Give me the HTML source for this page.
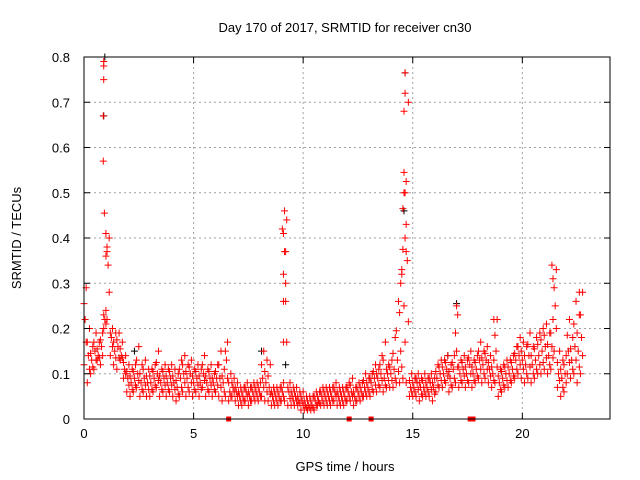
<!DOCTYPE html>
<html><head><meta charset="utf-8"><style>
html,body{margin:0;padding:0;background:#fff}
svg{display:block;font-family:"Liberation Sans",sans-serif}
</style></head><body>
<svg id="chart" width="640" height="480">
<rect width="640" height="480" fill="#fff"/>
<g id="grid"></g>
<g id="marks"></g>
<g id="axes"></g>
<text x="345" y="32" font-size="13" text-anchor="middle" fill="#000">Day 170 of 2017, SRMTID for receiver cn30</text>
<text x="345" y="471" font-size="13" text-anchor="middle" fill="#000">GPS time / hours</text>
<text x="0" y="0" transform="translate(21,238) rotate(-90)" font-size="13" text-anchor="middle" fill="#000">SRMTID / TECUs</text>
</svg>
<script>
const xTicks=[0,5,10,15,20];
const yTicks=[0,0.1,0.2,0.3,0.4,0.5,0.6,0.7,0.8];
const yTickLabels=["0","0.1","0.2","0.3","0.4","0.5","0.6","0.7","0.8"];
const tStep=0.15;
const loVals=[12,8,10,11,13,12,20,22,14,12,11,13,9,6,5,6,7,5,6,5,5,6,7,5,6,5,6,5,4,5,6,5,6,5,6,5,7,5,6,5,6,5,4,5,4,5,4,3,3,4,3,4,4,4,5,4,4,3,3,3,4,4,3,3,3,3,2,2,2,2,2,3,3,3,3,3,4,3,3,3,4,4,3,4,4,5,5,5,6,6,7,6,7,7,7,8,8,9,8,5,5,5,4,5,5,5,4,6,7,7,8,6,7,8,7,8,7,8,7,8,9,8,9,8,7,8,5,6,7,7,8,9,10,9,8,9,8,9,10,10,11,10,11,15,7,5,6,10,9,10,8,10];
const midVals=[22,14,13,15,14,16,22,34,18,15,16,14,11,9,8,9,10,8,9,8,8,9,10,8,9,8,9,8,7,9,10,9,10,8,9,8,10,8,9,8,9,9,8,13,6,7,6,5,5,6,5,6,6,6,9,8,7,5,5,5,6,30,6,5,5,4,4,3,3,3,4,4,5,5,5,5,6,5,5,5,6,6,5,6,6,7,7,8,9,9,10,9,10,10,11,13,15,25,35,7,7,8,7,7,7,8,7,9,10,10,11,9,11,15,10,11,10,12,10,11,13,12,13,11,10,15,8,9,10,10,11,13,14,13,12,14,12,13,14,15,16,14,16,25,10,9,10,15,13,16,15,18];
const hiVals=[29,20,16,19,17,19,24,40,20,19,19,17,14,12,11,12,16,12,13,11,11,12,15,11,12,11,12,11,10,13,14,12,13,11,12,11,14,11,12,10,12,15,11,17,10,9,8,7,7,8,7,8,8,8,15,13,12,7,7,7,8,44,8,7,7,6,6,5,5,5,6,6,7,7,7,7,8,7,7,7,8,9,7,8,8,10,9,10,12,11,14,17,12,13,18,26,32,50,70,10,9,10,9,10,9,10,9,12,13,13,14,12,14,23,13,14,13,15,13,14,17,15,16,14,13,22,11,12,13,13,14,16,18,17,16,19,16,18,19,20,21,19,22,33,15,13,14,22,18,26,23,28];
const peakT=[0.9,0.9,0.9,0.88,0.88,0.93,1.0,1.05,1.0,9.05,9.15,9.1,9.2,9.1,9.1,9.2,9.1,14.65,14.65,14.6,14.6,14.6,14.55,14.7,14.65,14.7,14.5,14.45,17.0,18.7,21.35,21.4,22.6];
const peakV=[0.79,0.78,0.75,0.67,0.57,0.455,0.41,0.38,0.36,0.42,0.46,0.41,0.37,0.32,0.26,0.26,0.17,0.765,0.72,0.68,0.545,0.5,0.465,0.43,0.4,0.37,0.33,0.3,0.25,0.22,0.34,0.31,0.28];
const blackT=[0.95,0.9,9.2,14.65,14.6,17.0,8.1,16.6,2.3];
const blackV=[0.80,0.67,0.12,0.765,0.46,0.255,0.15,0.14,0.15];
const gapT=[6.6,12.1,13.1,17.62,17.75];

const X0=84,X1=610,Y0=419,Y1=57,XMAX=24,YMAX=0.8;
const xs=t=>X0+(t/XMAX)*(X1-X0);
const ys=v=>Y0-(v/YMAX)*(Y0-Y1);
const NS="http://www.w3.org/2000/svg";
function mk(tag,attrs,parent){const e=document.createElementNS(NS,tag);for(const k in attrs)e.setAttribute(k,attrs[k]);parent.appendChild(e);return e;}
const grid=document.getElementById('grid'),marks=document.getElementById('marks'),axes=document.getElementById('axes');

xTicks.forEach((t,i)=>{
  if(t>0){const g=mk('line',{x1:xs(t),x2:xs(t),y1:Y1,y2:Y0,stroke:'#a0a0a0','stroke-dasharray':'2,3'},grid);
  
  }
  const lb=mk('text',{x:xs(t),y:Y0+19,'font-size':13,'text-anchor':'middle'},axes);lb.textContent=String(t);
  
  
  mk('line',{x1:xs(t),x2:xs(t),y1:Y0,y2:Y0-6,stroke:'#000'},axes);
  mk('line',{x1:xs(t),x2:xs(t),y1:Y1,y2:Y1+6,stroke:'#000'},axes);
});
yTicks.forEach((v,i)=>{
  if(v>0&&v<YMAX){const g=mk('line',{x1:X0,x2:X1,y1:ys(v),y2:ys(v),stroke:'#a0a0a0','stroke-dasharray':'2,3'},grid);
  
  }
  const lb=mk('text',{x:X0-14,y:ys(v)+5,'font-size':13,'text-anchor':'end'},axes);lb.textContent=yTickLabels[i];
  
  
  mk('line',{x1:X0,x2:X0+6,y1:ys(v),y2:ys(v),stroke:'#000'},axes);
  mk('line',{x1:X1,x2:X1-6,y1:ys(v),y2:ys(v),stroke:'#000'},axes);
});
const fr=mk('rect',{x:X0,y:Y1,width:X1-X0,height:Y0-Y1,fill:'none',stroke:'#000'},axes);



function plus(t,v,col){
  const x=xs(t),y=ys(v);
  const p=mk('path',{d:`M${x-3.5} ${y}H${x+3.5}M${x} ${y-3.5}V${y+3.5}`,stroke:col,'stroke-width':1,fill:'none'},marks);
  
  
}
blackT.forEach((t,i)=>plus(t,blackV[i],'#000'));
loVals.forEach((v,i)=>plus(i*tStep,v/100,'#f00'));
midVals.forEach((v,i)=>plus(i*tStep+0.05,v/100,'#f00'));
hiVals.forEach((v,i)=>plus(i*tStep+0.1,v/100,'#f00'));
loVals.forEach((v,i)=>plus(i*tStep+0.1,(v+midVals[i])/200,'#f00'));
midVals.forEach((v,i)=>plus(i*tStep,(v+hiVals[i])/200,'#f00'));
peakT.forEach((t,i)=>plus(t,peakV[i],'#f00'));
gapT.forEach(t=>{
  const r=mk('rect',{x:xs(t)-2.5,y:Y0-2.5,width:5,height:5,fill:'#f00'},marks);
  
  
});
</script>
</body></html>
